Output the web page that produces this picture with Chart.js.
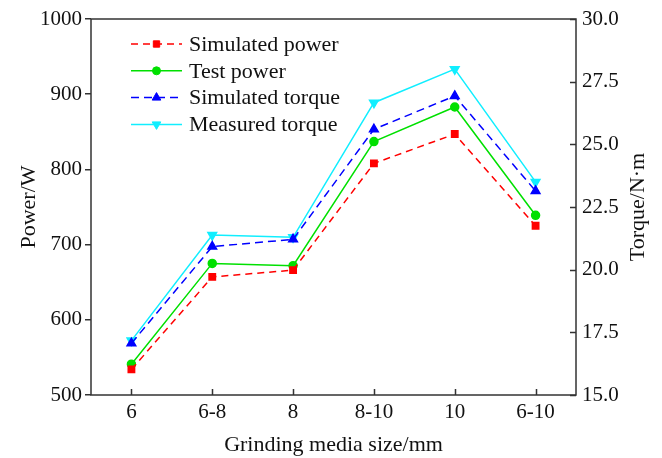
<!DOCTYPE html>
<html>
<head>
<meta charset="utf-8">
<script src="https://cdn.jsdelivr.net/npm/chart.js@4/dist/chart.umd.min.js"></script>
<style>
  html, body { margin: 0; padding: 0; background: #fff; }
  #wrap { width: 662px; height: 458px; }
</style>
</head>
<body>
<div id="wrap"><canvas id="chart"></canvas></div>
<script>
var sizes = ['6', '6-8', '8', '8-10', '10', '6-10'];
var simPower = [534, 657, 666, 808, 847, 725];
var testPower = [541, 675, 672, 837, 883, 739];
var simTorque = [17.06, 20.92, 21.21, 25.6, 26.93, 23.14];
var measTorque = [17.17, 21.38, 21.29, 26.66, 28.0, 23.5];

var serif = "'Liberation Serif', 'Times New Roman', serif";
var axisColor = '#333';

// frame, inward ticks, right title and the legend inside the plot
var framePlugin = {
  id: 'frame',
  afterDraw: function (chart) {
    var ctx = chart.ctx;
    var a = chart.chartArea;
    ctx.save();
    ctx.strokeStyle = axisColor;
    ctx.lineWidth = 1.5;
    ctx.strokeRect(a.left, a.top, a.right - a.left, a.bottom - a.top);

    // x ticks point up into the plot
    var xs = chart.scales.x;
    ctx.beginPath();
    for (var i = 0; i < xs.ticks.length; i++) {
      var px = Math.round(xs.getPixelForTick(i)) + 0.5;
      ctx.moveTo(px, a.bottom);
      ctx.lineTo(px, a.bottom - 6);
    }
    // right ticks point left
    var ys = chart.scales.y1;
    for (var j = 0; j < ys.ticks.length; j++) {
      var py = Math.round(ys.getPixelForTick(j)) + 0.5;
      ctx.moveTo(a.right, py);
      ctx.lineTo(a.right - 6, py);
    }
    ctx.stroke();

    // right axis title, read bottom to top like the left one
    ctx.save();
    ctx.translate(638, (a.top + a.bottom) / 2);
    ctx.rotate(-Math.PI / 2);
    ctx.fillStyle = '#111';
    ctx.font = '22px ' + serif;
    ctx.textAlign = 'center';
    ctx.textBaseline = 'middle';
    ctx.fillText('Torque/N\u00b7m', 0, 0);
    ctx.restore();

    // legend
    var x0 = 131, x1 = 182;
    chart.data.datasets.forEach(function (ds, k) {
      var y = 44 + k * 26.8;
      ctx.strokeStyle = ds.borderColor;
      ctx.lineWidth = ds.borderWidth;
      ctx.setLineDash(ds.borderDash || []);
      ctx.beginPath();
      ctx.moveTo(x0, y);
      ctx.lineTo(x1, y);
      ctx.stroke();
      ctx.setLineDash([]);
      ctx.fillStyle = ds.pointBackgroundColor;
      ctx.strokeStyle = ds.borderColor;
      ctx.lineWidth = 1;
      Chart.helpers.drawPoint(ctx, {
        pointStyle: ds.pointStyle,
        rotation: ds.pointRotation || 0,
        radius: ds.pointRadius,
        borderWidth: 1
      }, (x0 + x1) / 2, y);
      ctx.fillStyle = '#111';
      ctx.font = '22px ' + serif;
      ctx.textBaseline = 'middle';
      ctx.textAlign = 'left';
      ctx.fillText(ds.label, 189, y + 1);
    });
    ctx.restore();
  }
};

function series(label, data, color, dash, style, radius, rot, axis) {
  return {
    label: label,
    data: data,
    yAxisID: axis,
    borderColor: color,
    backgroundColor: color,
    pointBackgroundColor: color,
    pointBorderColor: color,
    borderWidth: 1.5,
    borderDash: dash,
    pointStyle: style,
    pointRadius: radius,
    pointRotation: rot,
    tension: 0
  };
}

new Chart(document.getElementById('chart'), {
  type: 'line',
  data: {
    labels: sizes,
    datasets: [
      series('Simulated power', simPower, '#ff0000', [7, 5], 'rect', 4.5, 0, 'y'),
      series('Test power', testPower, '#00e000', [], 'circle', 4, 0, 'y'),
      series('Simulated torque', simTorque, '#0000ff', [8, 5], 'triangle', 5, 0, 'y1'),
      series('Measured torque', measTorque, '#11eeff', [], 'triangle', 5, 180, 'y1')
    ]
  },
  options: {
    responsive: true,
    maintainAspectRatio: false,
    animation: false,
    layout: { padding: { top: 19, right: 0, left: 0, bottom: 0 } },
    plugins: { legend: { display: false }, tooltip: { enabled: false } },
    scales: {
      x: {
        offset: true,
        grid: { display: false, drawTicks: false },
        border: { display: false },
        ticks: { color: '#111', font: { family: serif, size: 21 }, padding: 5 },
        title: { display: true, text: 'Grinding media size/mm', color: '#111',
                 font: { family: serif, size: 22 }, padding: { top: 4, bottom: 0 } },
        afterFit: function (s) { s.height = 63; }
      },
      y: {
        position: 'left',
        min: 500, max: 1000,
        ticks: { stepSize: 100, color: '#111', font: { family: serif, size: 21 }, padding: 3,
                 callback: function (v) { return String(v); } },
        grid: { drawOnChartArea: false, tickLength: 6, color: axisColor, lineWidth: 1.5 },
        border: { display: false },
        title: { display: true, text: 'Power/W', color: '#111',
                 font: { family: serif, size: 22 }, padding: { top: 16, bottom: 0 } },
        afterFit: function (s) { s.width = 91; }
      },
      y1: {
        position: 'right',
        min: 15, max: 30,
        ticks: { stepSize: 2.5, color: '#111', font: { family: serif, size: 21 }, padding: 6,
                 callback: function (v) { return v.toFixed(1); } },
        grid: { drawOnChartArea: false, drawTicks: false },
        border: { display: false },
        afterFit: function (s) { s.width = 86; }
      }
    }
  },
  plugins: [framePlugin]
});
</script>
</body>
</html>
